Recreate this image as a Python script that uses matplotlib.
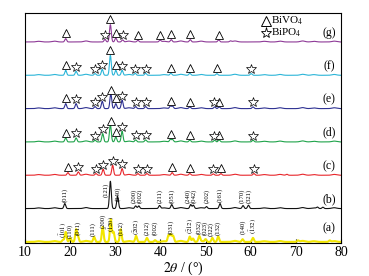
import matplotlib
matplotlib.use("Agg")
import matplotlib.pyplot as plt
import numpy as np

plt.rcParams.update({
    "font.family": "serif",
    "font.serif": ["Liberation Serif", "DejaVu Serif"],
    "mathtext.fontset": "stix",
})

# sample labels, bottom to top, and their colours
samples = ["(a)", "(b)", "(c)", "(d)", "(e)", "(f)", "(g)"]
colors = ["#f2e600", "#111111", "#e8262b", "#1fa34a", "#2e3192", "#2bb5d8", "#8e3a97"]

# peak positions (2theta) and heights (in trace-spacing units)
a_pos = [18.4, 19.0, 20.0, 21.3, 21.7, 25.3, 27.2, 29.0, 29.6, 31.2, 34.6, 37.0, 38.8,
         41.8, 42.3, 42.8, 46.5, 47.2, 48.6, 50.0, 51.5, 52.8, 58.2, 60.5, 70.5, 77.5]
a_h = [0.06, 0.30, 0.12, 0.36, 0.15, 0.15, 0.45, 0.68, 0.30, 0.38, 0.18, 0.12, 0.05,
       0.20, 0.22, 0.18, 0.16, 0.10, 0.16, 0.08, 0.12, 0.16, 0.08, 0.12, 0.04, 0.04]

b_pos = [18.8, 28.9, 30.5, 34.5, 35.2, 39.8, 42.5, 46.7, 47.3, 50.2, 53.2, 58.3, 59.5,
         74.8, 76.0]
b_h = [0.15, 0.82, 0.36, 0.08, 0.08, 0.09, 0.12, 0.12, 0.10, 0.06, 0.15, 0.09, 0.10,
       0.04, 0.04]

c_pos = [19.5, 21.8, 25.7, 27.3, 29.4, 31.5, 35.0, 37.0, 42.6, 46.5, 51.7, 53.4, 60.7, 68.0]
c_h = [0.08, 0.10, 0.05, 0.18, 0.30, 0.20, 0.05, 0.05, 0.08, 0.05, 0.04, 0.05, 0.05, 0.03]

d_pos = [19.0, 21.3, 25.5, 27.2, 28.9, 30.1, 31.5, 34.5, 36.7, 42.2, 42.7, 46.5, 52.0,
         53.0, 60.5]
d_h = [0.12, 0.12, 0.05, 0.25, 0.52, 0.15, 0.32, 0.06, 0.06, 0.08, 0.07, 0.05, 0.05,
       0.06, 0.05]

e_pos = [19.0, 21.3, 25.5, 27.1, 29.0, 30.1, 31.5, 34.5, 36.7, 42.2, 42.7, 46.5, 52.0,
         53.0, 60.5]
e_h = [0.15, 0.15, 0.06, 0.22, 0.45, 0.15, 0.25, 0.06, 0.06, 0.08, 0.07, 0.05, 0.05,
       0.05, 0.05]

f_pos = [19.0, 21.3, 25.5, 27.1, 28.9, 30.1, 31.5, 34.4, 36.7, 42.3, 46.5, 52.5, 60.1]
f_h = [0.15, 0.12, 0.05, 0.18, 0.60, 0.15, 0.15, 0.06, 0.06, 0.06, 0.06, 0.05, 0.05]

g_pos = [19.0, 27.7, 28.9, 30.1, 31.6, 35.0, 39.9, 42.4, 46.6, 52.9, 55.5]
g_h = [0.10, 0.08, 0.52, 0.12, 0.06, 0.05, 0.05, 0.07, 0.07, 0.06, 0.03]

peak_pos = [a_pos, b_pos, c_pos, d_pos, e_pos, f_pos, g_pos]
peak_h = [a_h, b_h, c_h, d_h, e_h, f_h, g_h]

# weak background humps seen along every trace
bump_pos = [13.0, 16.5, 23.5, 33.0, 40.8, 44.5, 49.0, 56.5, 63.0, 66.5, 71.5, 74.0, 78.5]
bump_h = [0.02, 0.025, 0.03, 0.025, 0.02, 0.03, 0.025, 0.03, 0.02, 0.025, 0.03, 0.02, 0.025]

# phase markers (triangle = BiVO4, star = BiPO4) for samples (c)-(g)
tri_x = {
    2: [19.5, 42.6, 46.5, 53.4],
    3: [19.0, 29.0, 30.1, 42.4, 46.5, 53.0],
    4: [19.0, 29.1, 30.1, 42.4, 46.5, 53.0],
    5: [19.0, 28.9, 30.1, 42.3, 46.5, 52.5],
    6: [19.0, 28.9, 30.1, 35.0, 39.9, 42.4, 46.6, 52.9],
}
star_x = {
    2: [21.8, 25.7, 27.3, 29.4, 31.5, 35.0, 37.0, 51.7, 60.7],
    3: [21.3, 25.5, 27.2, 31.5, 34.5, 36.7, 51.9, 60.5],
    4: [21.3, 25.5, 27.1, 31.5, 34.5, 36.7, 51.9, 60.5],
    5: [21.3, 25.5, 27.1, 31.5, 34.4, 36.7, 60.1],
    6: [27.7, 31.6],
}

# hkl labels for BiVO4 (b) and BiPO4 (a)
b_hkl = ["(011)", "(121)", "(040)", "(200)", "(002)", "(211)", "(051)", "(240)", "(042)",
         "(202)", "(161)", "(170)", "(321)"]
b_hkl_x = [18.8, 28.0, 30.6, 34.2, 35.5, 39.8, 42.5, 46.1, 47.5, 50.2, 53.2, 58.1, 59.7]
b_hkl_y = [0.20, 0.35, 0.22, 0.16, 0.16, 0.16, 0.18, 0.16, 0.16, 0.16, 0.20, 0.16, 0.16]

a_hkl = [r"$(\bar{1}01)$", "(110)", "(011)", "(111)", "(200)", r"$(\bar{1}20)$", "(112)",
         r"$(\bar{2}02)$", "(212)", "(002)", "(031)", r"$(\bar{2}12)$", "(032)", "(023)",
         "(322)", "(132)", "(140)", r"$(\bar{1}32)$"]
a_hkl_x = [18.3, 20.0, 21.7, 25.0, 27.2, 29.0, 31.2, 34.7, 37.0, 38.8, 42.3, 46.5, 48.4,
           49.8, 51.2, 52.7, 58.2, 60.5]
a_hkl_y = [0.12, 0.12, 0.20, 0.18, 0.42, 0.30, 0.22, 0.22, 0.20, 0.20, 0.24, 0.24, 0.24,
           0.20, 0.18, 0.22, 0.24, 0.24]

x = np.linspace(10, 80, 2801)


def trace(pos, h, w=0.2):
    y = np.zeros_like(x)
    for p, hh in zip(pos, h):
        y += hh * np.exp(-0.5 * ((x - p) / w) ** 2)
    for p, hh in zip(bump_pos, bump_h):
        y += hh * np.exp(-0.5 * ((x - p) / 0.5) ** 2)
    return y


fig = plt.figure(figsize=(3.69, 2.76), dpi=100)
ax = fig.add_axes([0.068, 0.12, 0.856, 0.833])

curves = []
for i, (pos, h) in enumerate(zip(peak_pos, peak_h)):
    y = trace(pos, h) + i
    curves.append(y)
    lw = 1.5 if i == 0 else 0.8
    ax.plot(x, y, color=colors[i], lw=lw, zorder=2)
    ax.text(77.3, i + (0.42 if i == 0 else 0.28), samples[i], fontsize=8.5,
            ha="center", va="center")

for i in tri_x:
    ty = np.interp(tri_x[i], x, curves[i]) + 0.16
    ax.plot(tri_x[i], ty, "^", ms=6, mfc="white", mec="black", mew=0.6, zorder=4,
            linestyle="none")
for i in star_x:
    sy = np.interp(star_x[i], x, curves[i]) + 0.14
    ax.plot(star_x[i], sy, "*", ms=7, mfc="white", mec="black", mew=0.5, zorder=4,
            linestyle="none")

for lab, lx, ly in zip(b_hkl, b_hkl_x, b_hkl_y):
    ax.text(lx, 1 + ly, lab, rotation=90, fontsize=4.8, ha="center", va="bottom")
for lab, lx, ly in zip(a_hkl, a_hkl_x, a_hkl_y):
    ax.text(lx, ly, lab, rotation=90, fontsize=4.8, ha="center", va="bottom")

# legend
ax.plot(63.4, 6.64, "^", ms=7, mfc="white", mec="black", mew=0.7)
ax.text(64.5, 6.64, r"BiVO$_4$", fontsize=8, va="center", ha="left")
ax.plot(63.4, 6.28, "*", ms=8, mfc="white", mec="black", mew=0.6)
ax.text(64.5, 6.28, r"BiPO$_4$", fontsize=8, va="center", ha="left")

ax.set_xlim(10, 80)
ax.set_ylim(-0.03, 6.87)
ax.set_xticks(range(10, 81, 10))
ax.set_yticks([])
ax.tick_params(axis="x", direction="in", length=3, labelsize=10, pad=2)
ax.set_xlabel(r"$2\theta$ / (°)", fontsize=10, labelpad=1)

fig.savefig("out.png", dpi=100, facecolor="white")
